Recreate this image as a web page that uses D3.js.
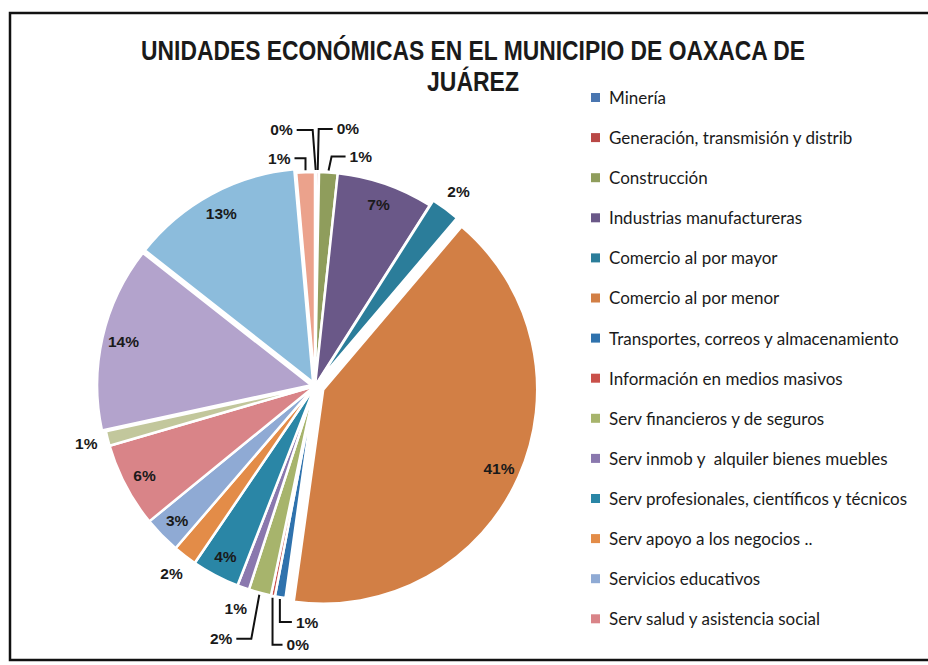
<!DOCTYPE html>
<html>
<meta charset="utf-8">
<style>
body { margin: 0; background: #fff; }
.title { font-family: "Liberation Sans", Arial, sans-serif; font-weight: bold; fill: #1a1a1a; }
.lbl { font-family: "Liberation Sans", Arial, sans-serif; font-weight: bold; font-size: 15.5px; fill: #1a1a1a; }
.legend text { font-family: Lato, "Open Sans", sans-serif; font-size: 17px; fill: #1a1a1a; white-space: pre; }
.leader { fill: none; stroke: #111; stroke-width: 2px; }
</style>
<body>
<script src="https://d3js.org/d3.v7.min.js"></script>
<script>

// categories in pie order (legend shows only the first 14, as in the original)
var categories = [
  "Minería",
  "Generación, transmisión y distrib",
  "Construcción",
  "Industrias manufactureras",
  "Comercio al por mayor",
  "Comercio al por menor",
  "Transportes, correos y almacenamiento",
  "Información en medios masivos",
  "Serv financieros y de seguros",
  "Serv inmob y  alquiler bienes muebles",
  "Serv profesionales, científicos y técnicos",
  "Serv apoyo a los negocios ..",
  "Servicios educativos",
  "Serv salud y asistencia social",
  "Serv esparcimiento culturales y deportivos",
  "Serv alojamiento temporal y preparación de alimentos",
  "Otros servicios excepto actividades gubernamentales",
  "Actividades gubernamentales"
];

// share of economic units, percent
var values = [0.1, 0.2, 1.4, 7.3, 2.2, 41.0, 0.8, 0.3, 1.7, 0.9, 3.6, 1.8, 2.8, 6.4, 1.1, 14.0, 13.0, 1.4];

var colors = ["#4a76b0", "#b94846", "#8f9d5c", "#6a5888", "#2b7d9a", "#d27f45",
              "#2f72ad", "#c9504a", "#a7b46c", "#8a78ae", "#2a86a6", "#e38c48",
              "#8faad4", "#d98488", "#c2c79c", "#b3a3cc", "#8cbcdc", "#eba28c"];

var legendCount = 14;

var width = 928, height = 665;
var cx = 315, cy = 386, radius = 214;

var svg = d3.select("body").append("svg")
    .attr("width", width)
    .attr("height", height);

// frame
svg.append("rect")
    .attr("x", 10).attr("y", 13)
    .attr("width", 940).attr("height", 647)
    .attr("fill", "none")
    .attr("stroke", "#111")
    .attr("stroke-width", 2.5);

// title, squeezed horizontally like a narrow face
function titleLine(txt, y, w) {
  var t = svg.append("g").append("text").attr("class", "title")
      .attr("x", 0).attr("y", 0)
      .attr("text-anchor", "middle")
      .attr("font-size", 28)
      .text(txt);
  var s = w / t.node().getComputedTextLength();
  d3.select(t.node().parentNode)
      .attr("transform", "translate(473," + y + ") scale(" + s + ",1)");
}
titleLine("UNIDADES ECONÓMICAS EN EL MUNICIPIO DE OAXACA DE", 60, 664);
titleLine("JUÁREZ", 91, 92);

var data = categories.map(function(c, i) { return {name: c, value: values[i], color: colors[i], i: i}; });

var pie = d3.pie().sort(null).value(function(d) { return d.value; });
var arcs = pie(data);

var arc = d3.arc().innerRadius(0).outerRadius(radius);

// exploded slices (offset from centre)
var explode = {4: 6, 5: 9, 15: 4, 16: 4};

function offset(d) {
  var e = explode[d.index] || 0;
  var a = (d.startAngle + d.endAngle) / 2;
  return [Math.sin(a) * e, -Math.cos(a) * e];
}

var g = svg.append("g").attr("transform", "translate(" + cx + "," + cy + ")");

g.selectAll("path.slice")
    .data(arcs)
    .enter().append("path")
    .attr("class", "slice")
    .attr("transform", function(d) { var o = offset(d); return "translate(" + o[0] + "," + o[1] + ")"; })
    .attr("d", arc)
    .attr("fill", function(d) { return d.data.color; })
    .attr("stroke", "#fff")
    .attr("stroke-width", 2.5)
    .attr("stroke-linejoin", "round");

function pct(d) { return Math.round(d.data.value) + "%"; }

function polar(a, r) { return [Math.sin(a) * r, -Math.cos(a) * r]; }

// inside labels for big slices, outside for small ones, leaders for the tiny ones
var leaders = {
  0:  {dy: -40, sx: -3, dx: -16},
  1:  {dy: -41, sx: 1, dx: 14},
  2:  {dy: -14, sx: 3, dx: 14},
  17: {dy: -12, sx: 0, dx: -11},
  6:  {dy: 23, sx: 0, dx: 12},
  7:  {dy: 47, sx: 0, dx: 10},
  8:  {dy: 44, sx: -8, dx: -15}
};

arcs.forEach(function(d) {
  var mid = (d.startAngle + d.endAngle) / 2;
  var o = offset(d);
  var L = leaders[d.index];
  if (L) {
    var p0 = polar(mid, radius + 2);
    var p1 = [p0[0] + L.sx, p0[1] + L.dy];
    var p2 = [p1[0] + L.dx, p1[1]];
    g.append("path").attr("class", "leader")
        .attr("d", d3.line()([p0, p1, p2]));
    g.append("text").attr("class", "lbl")
        .attr("x", p2[0] + (L.dx < 0 ? -4 : 4))
        .attr("y", p2[1])
        .attr("dy", "0.35em")
        .attr("text-anchor", L.dx < 0 ? "end" : "start")
        .text(pct(d));
    return;
  }
  var r = d.data.value >= 2.5 ? radius * 0.9 : radius + 22;
  var p = polar(mid, r);
  g.append("text").attr("class", "lbl")
      .attr("x", p[0] + o[0])
      .attr("y", p[1] + o[1])
      .attr("dy", "0.35em")
      .attr("text-anchor", "middle")
      .text(pct(d));
});

// legend
var legend = svg.append("g").attr("class", "legend")
    .attr("transform", "translate(591,98)");

var items = legend.selectAll("g")
    .data(data.slice(0, legendCount))
    .enter().append("g")
    .attr("transform", function(d, i) { return "translate(0," + (i * 40.1) + ")"; });

items.append("rect")
    .attr("x", 0).attr("y", -5)
    .attr("width", 9).attr("height", 9)
    .attr("fill", function(d) { return d.color; });

items.append("text")
    .attr("x", 18).attr("y", 0)
    .attr("dy", "0.35em")
    .text(function(d) { return d.name; });

</script>
</body>
</html>
